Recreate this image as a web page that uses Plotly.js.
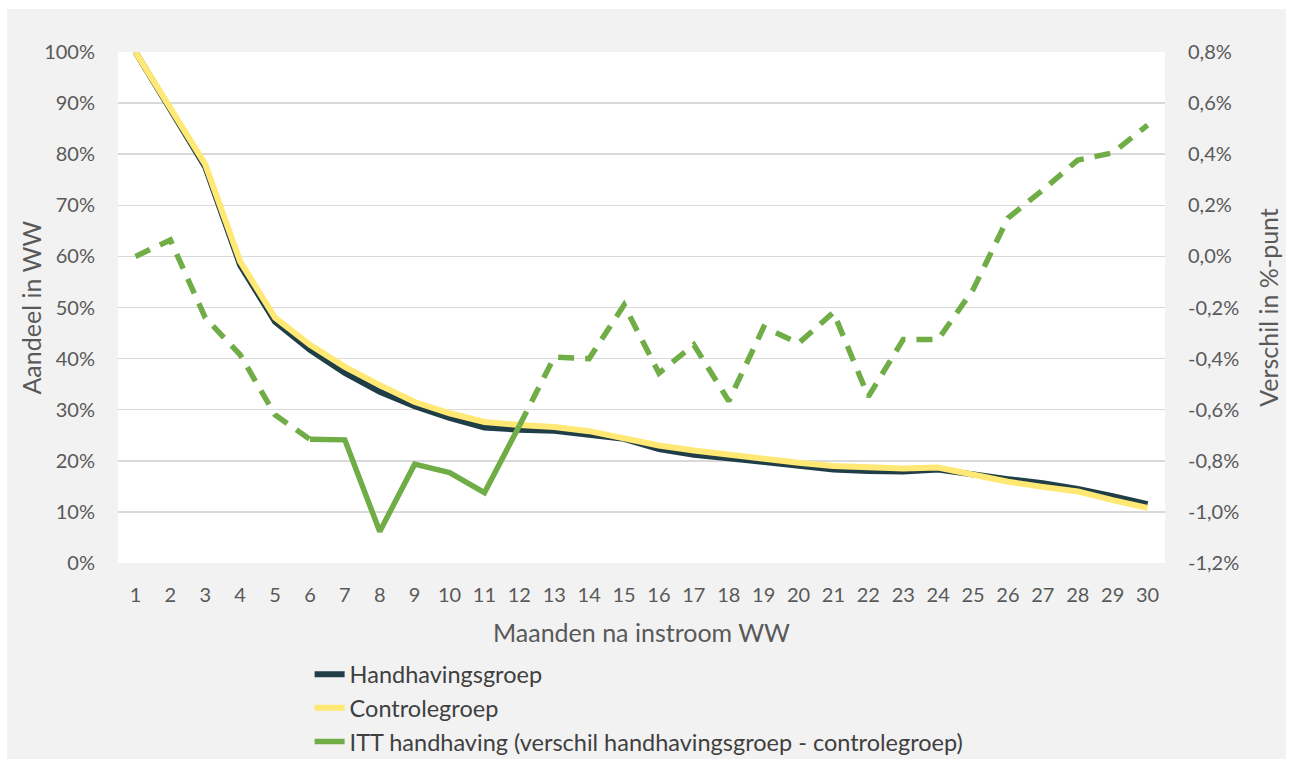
<!DOCTYPE html>
<html>
<head>
<meta charset="utf-8">
<script src="https://cdn.plot.ly/plotly-3.0.1.min.js"></script>
<style>
html,body{margin:0;padding:0;background:#ffffff;}
#chart{position:absolute;left:7px;top:9px;width:1279px;height:750px;}
</style>
</head>
<body>
<div id="chart"></div>
<script>
// Months after inflow
const months = [1,2,3,4,5,6,7,8,9,10,11,12,13,14,15,16,17,18,19,20,21,22,23,24,25,26,27,28,29,30];
// Share in WW (%)
const handhavingsgroep = [100,89,77.5,58.3,47.2,41.7,37.2,33.5,30.7,28.4,26.5,26.1,25.9,25.1,24.3,22.3,21.2,20.5,19.8,19.2,18.3,18.0,17.9,18.3,17.3,16.4,15.6,14.5,13.1,11.5];
const controlegroep   = [100,89,78.0,59.0,48.0,42.7,38.4,34.8,31.5,29.3,27.6,27.0,26.6,25.8,24.3,23.0,22.0,21.2,20.3,19.6,19.0,18.7,18.5,18.7,17.2,15.9,14.9,14.0,12.3,10.8];
// ITT difference (%-point)
const itt = [0.00,0.064,-0.24,-0.385,-0.62,-0.716,-0.718,-1.077,-0.813,-0.846,-0.925,-0.663,-0.394,-0.40,-0.19,-0.457,-0.346,-0.566,-0.277,-0.34,-0.219,-0.549,-0.325,-0.325,-0.13,0.15,0.26,0.377,0.405,0.514];
// Segment boundaries of the ITT line (month numbers): solid part
const ittSolidFrom = 6, ittSolidTo = 12;
// Tick labels
const leftTickVals = [0,10,20,30,40,50,60,70,80,90,100];
const leftTickText = ["0%","10%","20%","30%","40%","50%","60%","70%","80%","90%","100%"];
const rightTickVals = [-1.2,-1.0,-0.8,-0.6,-0.4,-0.2,0.0,0.2,0.4,0.6,0.8];
const rightTickText = ["-1,2%","-1,0%","-0,8%","-0,6%","-0,4%","-0,2%","0,0%","0,2%","0,4%","0,6%","0,8%"];

function part(xs, ys, a, b){
  const ox=[], oy=[];
  xs.forEach((m,i)=>{ if(m>=a && m<=b){ ox.push(m); oy.push(ys[i]); } });
  return {x:ox, y:oy};
}

const font = "Lato, 'Liberation Sans', sans-serif";
const green = '#70ad47';
const dashed = '16px,11px';

const pA = part(months, itt, 1, ittSolidFrom);
const pB = part(months, itt, ittSolidFrom, ittSolidTo);
const pC = part(months, itt, ittSolidTo, 30);

const traces = [
  {x: months, y: handhavingsgroep, name: 'Handhavingsgroep', type:'scatter', mode:'lines',
   line:{color:'#203e48', width:6}, yaxis:'y', hoverinfo:'skip'},
  {x: months, y: controlegroep, name: 'Controlegroep', type:'scatter', mode:'lines',
   line:{color:'#ffe873', width:6}, yaxis:'y', hoverinfo:'skip'},
  {x: pA.x, y: pA.y, name: 'ITT a', type:'scatter', mode:'lines', showlegend:false,
   line:{color:green, width:5.5, dash:dashed}, yaxis:'y2'},
  {x: pB.x, y: pB.y, name: 'ITT handhaving (verschil handhavingsgroep - controlegroep)', type:'scatter', mode:'lines',
   line:{color:green, width:5.5}, yaxis:'y2'},
  {x: pC.x, y: pC.y, name: 'ITT c', type:'scatter', mode:'lines', showlegend:false,
   line:{color:green, width:5.5, dash:dashed}, yaxis:'y2'}
];

const layout = {
  width:1279, height:750,
  paper_bgcolor:'#f2f2f2', plot_bgcolor:'#ffffff',
  margin:{l:111, r:121, t:43, b:196, autoexpand:false},
  font:{family:font, size:20, color:'#595959'},
  showlegend:true,
  legend:{xref:'container', yref:'container', x:0.2366, y:0.142, xanchor:'left', yanchor:'top',
          orientation:'v', bgcolor:'rgba(0,0,0,0)', font:{family:font, size:23.5, color:'#404040'},
          traceorder:'normal', itemwidth:30},
  xaxis:{range:[0.5,30.5], tickvals:months, ticktext:months.map(String), showgrid:false, zeroline:false,
         showline:false, ticks:'outside', ticklen:14, tickcolor:'rgba(0,0,0,0)', fixedrange:true,
         tickfont:{size:20, color:'#595959'}, automargin:true, tickangle:0,
         title:{text:'Maanden na instroom WW', font:{size:25, color:'#595959'}, standoff:19}},
  yaxis:{range:[0,100], tickvals:leftTickVals, ticktext:leftTickText, showgrid:true, gridcolor:'#d9d9d9', gridwidth:1.5,
         zeroline:false, showline:false, ticks:'outside', ticklen:18, tickcolor:'rgba(0,0,0,0)', automargin:true,
         tickfont:{size:20, color:'#595959'}},
  yaxis2:{range:[-1.2,0.8], tickvals:rightTickVals, ticktext:rightTickText, overlaying:'y', side:'right',
          showgrid:false, zeroline:false, showline:false, ticks:'outside', ticklen:18, tickcolor:'rgba(0,0,0,0)',
          automargin:true, tickfont:{size:20, color:'#595959'},
          title:{text:'Verschil in %-punt', font:{size:25, color:'#595959'}, standoff:22}},
  annotations:[
    {text:'Aandeel in WW', xref:'paper', yref:'paper', x:-0.084, y:0.5, xanchor:'center', yanchor:'middle',
     textangle:-90, showarrow:false, font:{family:font, size:25, color:'#595959'}}
  ]
};

Plotly.newPlot('chart', traces, layout, {displayModeBar:false, staticPlot:true});
</script>
</body>
</html>
